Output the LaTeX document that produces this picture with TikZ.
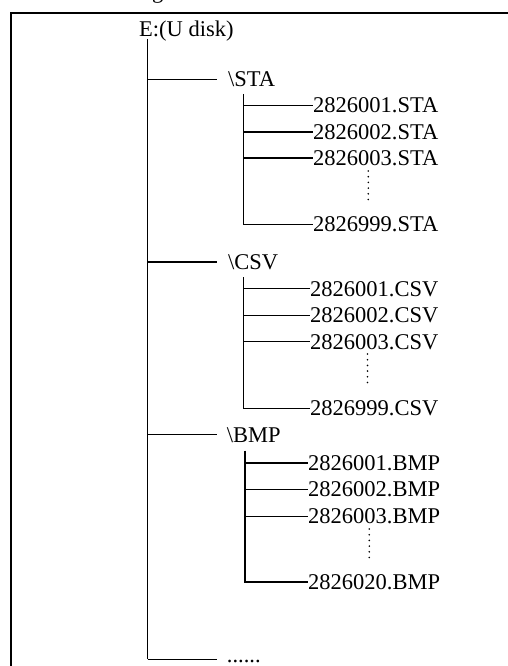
\documentclass[tikz,border=0pt]{standalone}
\usepackage{fontspec}
\setmainfont{Liberation Serif}
\begin{document}
\begin{tikzpicture}[x=1pt,y=-1pt,
  lbl/.style={anchor=base west, inner sep=0pt, font=\fontsize{22.5}{27}\selectfont},
  tree/.style={line width=1.35pt, black},
  frame/.style={line width=2.2pt},
  vdots/.style={line width=1.8pt, dash pattern=on 0pt off 5.7pt, line cap=round}]
\useasboundingbox (0,0) rectangle (508,666);
\clip (0,0) rectangle (508,666);
% cut-off caption fragment and frame
\node[lbl] (cap) at (152,-1) {g};
\draw[frame] (600,13) -- (11,13) -- (11,700);
% root
\node[lbl] (root) at (139,37) {E:(U disk)};
\coordinate (top) at (147.5,39);
\coordinate (jSTA) at (147.5,79.3);
\coordinate (jCSV) at (147.5,262);
\coordinate (jBMP) at (147.5,434.5);
\coordinate (jEnd) at (147.5,659.3);
\draw[tree] (top) -- (jEnd);
% directories
\node[lbl] (STA) at (228,86.8) {\textbackslash STA};
\node[lbl] (CSV) at (228,269.5) {\textbackslash CSV};
\node[lbl] (BMP) at (226.7,442) {\textbackslash BMP};
\node[lbl] (more) at (226.7,662) {......};
\draw[tree] (jSTA) -- ([xshift=-11pt]STA.west |- jSTA);
\draw[tree] (jCSV) -- ([xshift=-11pt]CSV.west |- jCSV);
\draw[tree] (jBMP) -- ([xshift=-9.5pt]BMP.west |- jBMP);
\draw[tree] (jEnd) -- ([xshift=-9.5pt]more.west |- jEnd);
% STA files
\coordinate (sSTA) at (243.3,94);
\node[lbl] (f1STA) at (313,112.5) {2826001.STA};
\node[lbl] (f2STA) at (313,139.2) {2826002.STA};
\node[lbl] (f3STA) at (313,165.2) {2826003.STA};
\node[lbl] (f4STA) at (313,231.5) {2826999.STA};
\draw[tree] (sSTA) |- (f4STA.west);
\draw[tree] (sSTA |- f1STA.west) -- (f1STA.west);
\draw[tree] (sSTA |- f2STA.west) -- (f2STA.west);
\draw[tree] (sSTA |- f3STA.west) -- (f3STA.west);
\coordinate (dSTAa) at (368.3,171);
\coordinate (dSTAb) at (368.3,204);
\draw[vdots] (dSTAa) -- (dSTAb);
% CSV files
\coordinate (sCSV) at (243.3,277);
\node[lbl] (f1CSV) at (310,296) {2826001.CSV};
\node[lbl] (f2CSV) at (310,322.5) {2826002.CSV};
\node[lbl] (f3CSV) at (310,349) {2826003.CSV};
\node[lbl] (f4CSV) at (310,415.8) {2826999.CSV};
\draw[tree] (sCSV) |- (f4CSV.west);
\draw[tree] (sCSV |- f1CSV.west) -- (f1CSV.west);
\draw[tree] (sCSV |- f2CSV.west) -- (f2CSV.west);
\draw[tree] (sCSV |- f3CSV.west) -- (f3CSV.west);
\coordinate (dCSVa) at (367.5,354);
\coordinate (dCSVb) at (367.5,387);
\draw[vdots] (dCSVa) -- (dCSVb);
% BMP files
\coordinate (sBMP) at (245,450.5);
\node[lbl] (f1BMP) at (308,470.2) {2826001.BMP};
\node[lbl] (f2BMP) at (308,496.8) {2826002.BMP};
\node[lbl] (f3BMP) at (308,523.5) {2826003.BMP};
\node[lbl] (f4BMP) at (308,589.2) {2826020.BMP};
\draw[tree] (sBMP) |- (f4BMP.west);
\draw[tree] (sBMP |- f1BMP.west) -- (f1BMP.west);
\draw[tree] (sBMP |- f2BMP.west) -- (f2BMP.west);
\draw[tree] (sBMP |- f3BMP.west) -- (f3BMP.west);
\coordinate (dBMPa) at (369.3,529);
\coordinate (dBMPb) at (369.3,562);
\draw[vdots] (dBMPa) -- (dBMPb);
\end{tikzpicture}
\end{document}
